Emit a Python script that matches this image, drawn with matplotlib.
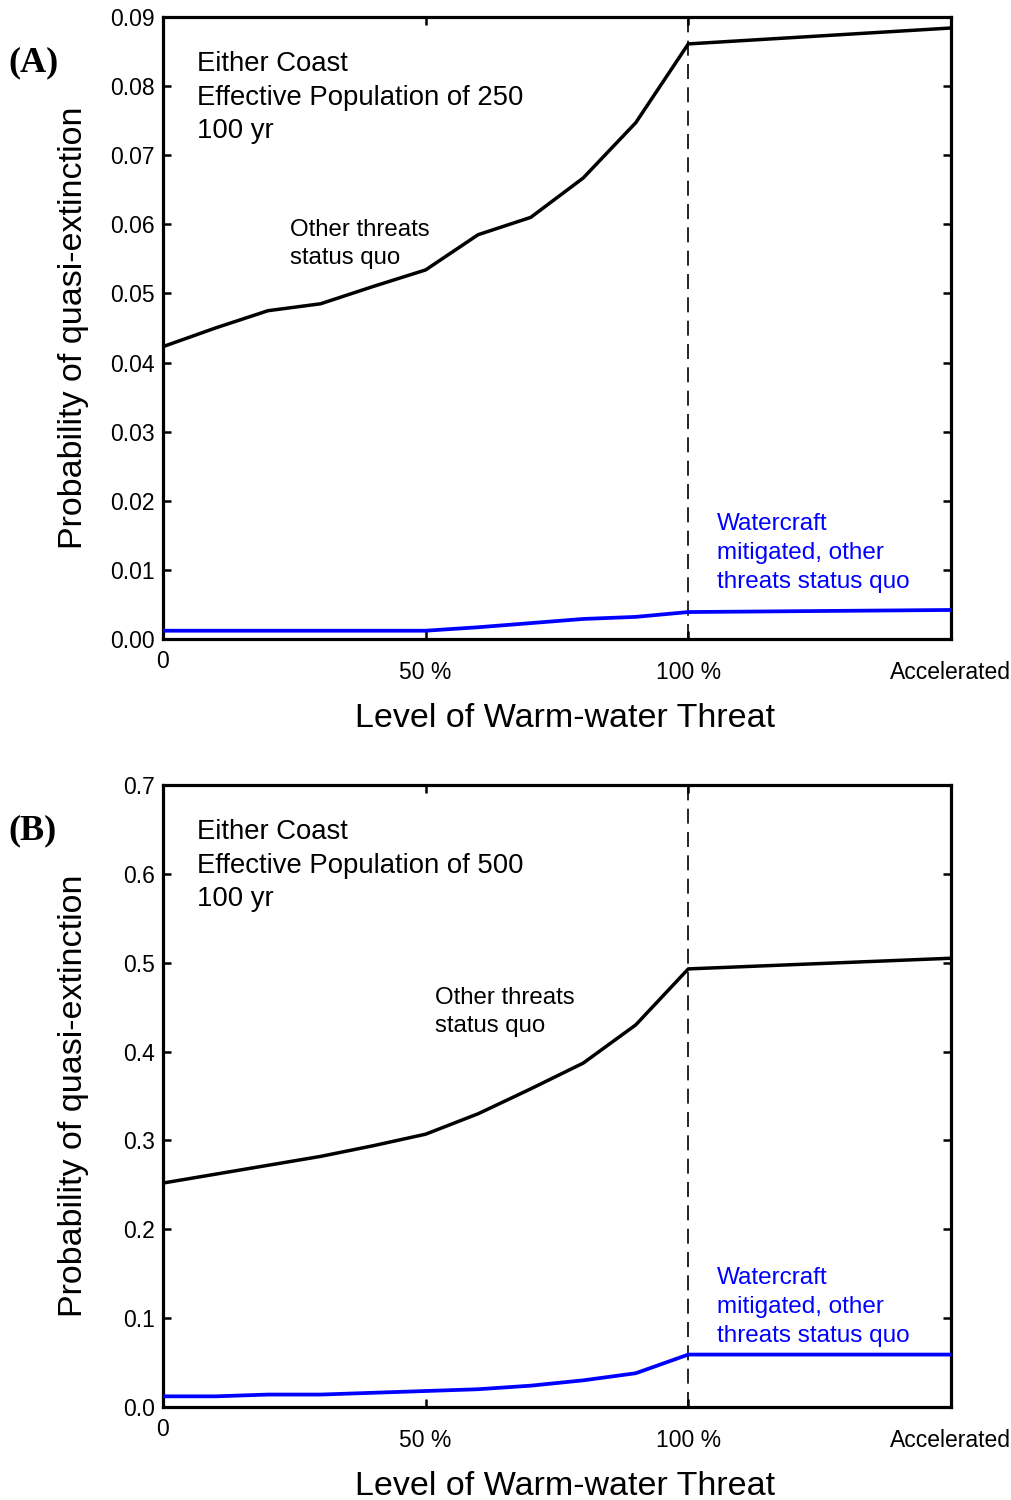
import matplotlib
matplotlib.use('Agg')
import matplotlib.pyplot as plt
import numpy as np

plt.rcParams['font.family'] = ['Liberation Sans', 'DejaVu Sans']

# threat level in percent; "Accelerated" sits at 150
threat_level = [0, 10, 20, 30, 40, 50, 60, 70, 80, 90, 100, 150]
tick_pos = [0, 50, 100, 150]
tick_labels = ['0', '50 %', '100 %', 'Accelerated']

# panel A: effective population 250
status_quo_250 = [0.0423, 0.0450, 0.0475, 0.0485, 0.0510, 0.0534, 0.0585,
                  0.0610, 0.0667, 0.0747, 0.0861, 0.0884]
mitigated_250 = [0.0012, 0.0012, 0.0012, 0.0012, 0.0012, 0.0012, 0.0017,
                 0.0023, 0.0029, 0.0032, 0.0039, 0.0042]

# panel B: effective population 500
status_quo_500 = [0.252, 0.262, 0.272, 0.282, 0.294, 0.307, 0.330, 0.358,
                  0.387, 0.430, 0.493, 0.505]
mitigated_500 = [0.012, 0.012, 0.014, 0.014, 0.016, 0.018, 0.020, 0.024,
                 0.030, 0.038, 0.059, 0.059]


def draw_panel(ax, black, blue, ymax, ystep, yfmt, pop, letter, other_xy, blue_xy):
    ax.plot(threat_level, black, color='black', lw=2.5, zorder=3)
    ax.plot(threat_level, blue, color='#0000ff', lw=2.7, zorder=3)
    ax.axvline(100, color='black', lw=1.2, ls=(0, (9, 5)), zorder=2)

    ax.set_xlim(0, 150)
    ax.set_ylim(0, ymax)
    yt = np.arange(0, ymax + ystep / 2, ystep)
    ax.set_yticks(yt)
    ax.set_yticklabels([yfmt % v for v in yt])
    ax.set_xticks(tick_pos)
    ax.set_xticklabels(tick_labels)
    # the zero label sits higher than the others
    ax.get_xticklabels()[0].set_va('center')
    ax.get_xticklabels()[-1].set_ha('center')

    ax.tick_params(direction='in', length=6, width=1.8, labelsize=16.5,
                   top=True, right=True, pad=6)
    ax.tick_params(axis='x', pad=16)
    for s in ax.spines.values():
        s.set_linewidth(2.3)

    ax.set_xlabel('Level of Warm-water Threat', fontsize=24.5, va='center')
    ax.xaxis.set_label_coords(0.51, -0.128)
    ax.set_ylabel('Probability of quasi-extinction', fontsize=24.5, va='center')
    ax.yaxis.set_label_coords(-0.114, 0.5)

    lines = ['Either Coast', 'Effective Population of %d' % pop, '100 yr']
    for i, t in enumerate(lines):
        ax.text(0.043, 0.924 - i * 0.054, t, transform=ax.transAxes,
                fontsize=19.8, va='center', ha='left')
    for i, t in enumerate(['Other threats', 'status quo']):
        ax.text(other_xy[0], other_xy[1] - i * 0.046, t, transform=ax.transAxes,
                fontsize=17.3, va='center', ha='left')
    for i, t in enumerate(['Watercraft', 'mitigated, other', 'threats status quo']):
        ax.text(blue_xy[0], blue_xy[1] - i * 0.047, t, transform=ax.transAxes,
                fontsize=17.5, va='center', ha='left', color='#0000ff')

    ax.text(-0.196, 0.926, '(%s)' % letter, transform=ax.transAxes,
            fontsize=26, fontweight='bold', family='Liberation Serif',
            va='center', ha='left')


fig = plt.figure(figsize=(10.11, 15.0), dpi=100)
ax_a = fig.add_axes([0.1612, 0.574, 0.7794, 0.4147])
ax_b = fig.add_axes([0.1612, 0.062, 0.7794, 0.4147])

draw_panel(ax_a, status_quo_250, mitigated_250, 0.09, 0.01, '%.2f', 250, 'A',
           (0.161, 0.658), (0.703, 0.185))
draw_panel(ax_b, status_quo_500, mitigated_500, 0.7, 0.1, '%.1f', 500, 'B',
           (0.345, 0.658), (0.703, 0.208))

fig.savefig('out.png', dpi=100)
